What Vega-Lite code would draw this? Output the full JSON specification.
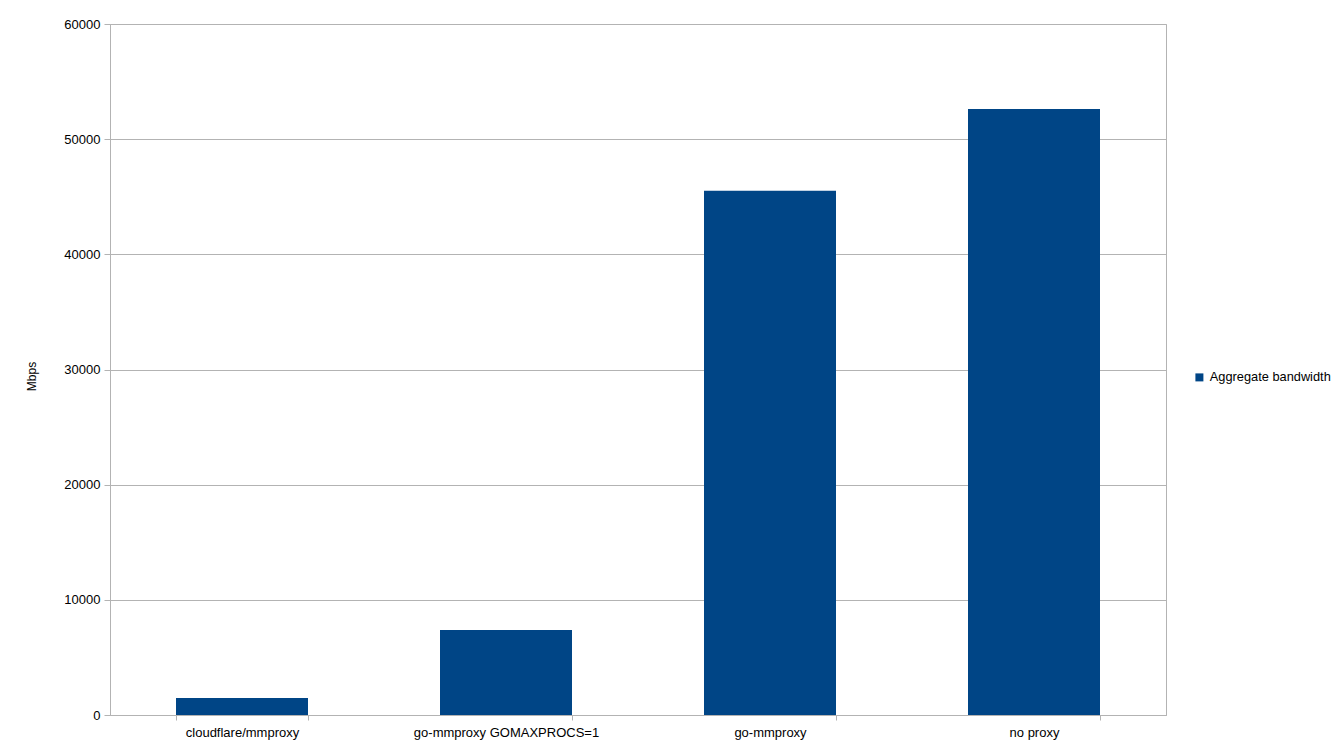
{
  "$schema": "https://vega.github.io/schema/vega-lite/v6.json",
  "width": 1056,
  "height": 691,
  "autosize": "none",
  "padding": {"left": 110, "top": 24, "right": 176, "bottom": 40},
  "background": "white",
  "config": {
    "view": {"stroke": "#b3b3b3", "strokeWidth": 1},
    "font": "Liberation Sans"
  },
  "data": {
    "values": [
      {"proxy": "cloudflare/mmproxy", "series": "Aggregate bandwidth", "mbps": 1470},
      {"proxy": "go-mmproxy GOMAXPROCS=1", "series": "Aggregate bandwidth", "mbps": 7370},
      {"proxy": "go-mmproxy", "series": "Aggregate bandwidth", "mbps": 45520},
      {"proxy": "no proxy", "series": "Aggregate bandwidth", "mbps": 52630}
    ]
  },
  "mark": {"type": "bar"},
  "encoding": {
    "x": {
      "field": "proxy",
      "type": "nominal",
      "sort": null,
      "scale": {"paddingInner": 0.5, "paddingOuter": 0.25},
      "axis": {
        "title": null,
        "labelAngle": 0,
        "labelLimit": 0,
        "labelFont": "Liberation Sans",
        "labelFontSize": 13,
        "labelColor": "#000000",
        "labelPadding": 6,
        "tickBand": "extent",
        "tickSize": 5,
        "tickColor": "#b3b3b3",
        "domainColor": "#b3b3b3",
        "grid": false
      }
    },
    "y": {
      "field": "mbps",
      "type": "quantitative",
      "scale": {"domain": [0, 60000], "nice": false},
      "axis": {
        "title": "Mbps",
        "titleFont": "Liberation Sans",
        "titleFontSize": 12,
        "titleFontWeight": "normal",
        "titleColor": "#000000",
        "titleAngle": -90,
        "titleX": -79,
        "titleY": 352,
        "titleAlign": "center",
        "titleBaseline": "middle",
        "values": [0, 10000, 20000, 30000, 40000, 50000, 60000],
        "format": "d",
        "labelFont": "Liberation Sans",
        "labelFontSize": 13,
        "labelColor": "#000000",
        "labelPadding": 4,
        "tickSize": 6,
        "tickColor": "#b3b3b3",
        "domainColor": "#b3b3b3",
        "grid": true,
        "gridColor": "#b3b3b3"
      }
    },
    "color": {
      "field": "series",
      "type": "nominal",
      "scale": {"range": ["#004586"]},
      "legend": {
        "title": null,
        "orient": "none",
        "legendX": 1083,
        "legendY": 347,
        "padding": 0,
        "symbolType": "square",
        "symbolSize": 64,
        "symbolStrokeWidth": 0,
        "labelFont": "Liberation Sans",
        "labelFontSize": 12.8,
        "labelColor": "#000000",
        "labelOffset": 4
      }
    }
  }
}
